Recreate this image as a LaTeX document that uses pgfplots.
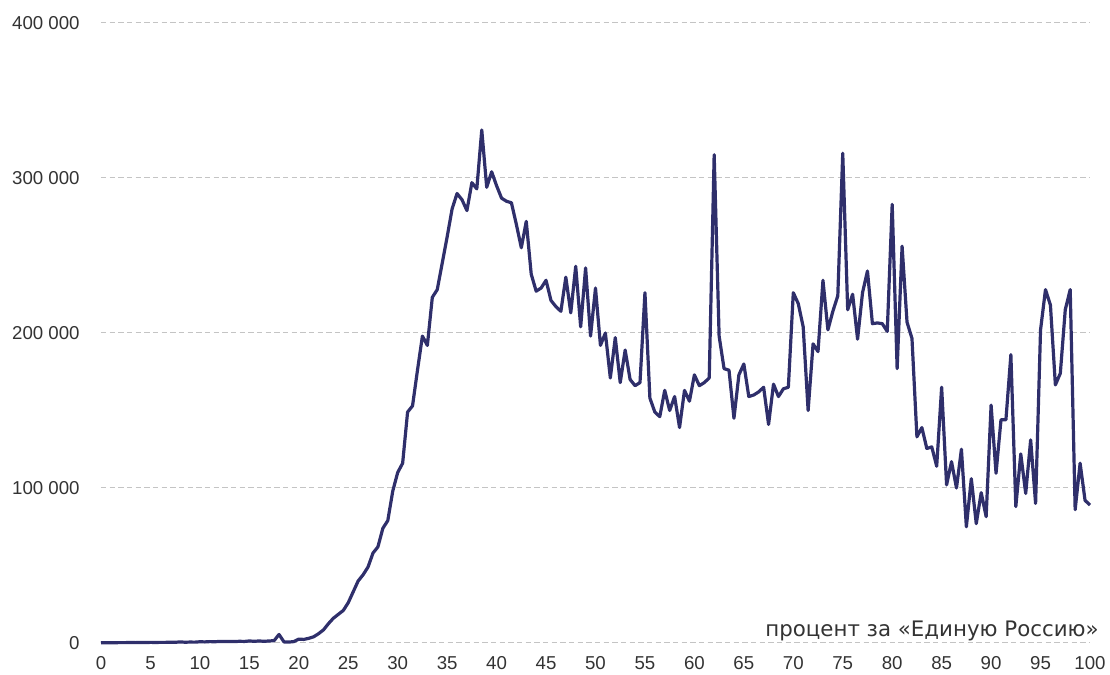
\documentclass[border=0pt]{standalone}
\usepackage{fontspec}
\setmainfont{Liberation Sans}
\newfontfamily\titlefont{DejaVu Sans}
\usepackage{pgfplots}
\pgfplotsset{compat=1.18}
\definecolor{linecol}{HTML}{2F2F6B}
\definecolor{gridcol}{HTML}{C4C4C4}
\definecolor{labcol}{HTML}{333333}
\begin{document}
\begin{tikzpicture}
\begin{axis}[
  scale only axis, width=741.75pt, height=465pt,
  xmin=0, xmax=100, ymin=0, ymax=400000,
  axis line style={draw=none},
  major tick length=0pt,
  xtick={0,5,...,100},
  xticklabels={0,5,10,15,20,25,30,35,40,45,50,55,60,65,70,75,80,85,90,95,100},
  ytick={0,100000,200000,300000,400000},
  yticklabels={0,100 000,200 000,300 000,400 000},
  scaled y ticks=false,
  ymajorgrids,
  grid style={gridcol, dash pattern=on 4pt off 2.5pt, line width=0.75pt},
  tick label style={font=\fontsize{14}{16}\selectfont, text=labcol},
  yticklabel style={anchor=east, xshift=-12.5pt},
  xticklabel style={anchor=north, yshift=-6.5pt},
  clip=false,
]
\addplot[linecol, line width=2.4pt, line join=round] coordinates {
(0,100)(0.5,150)(1,200)(1.5,200)(2,250)(2.5,250)(3,300)(3.5,250)(4,300)(4.5,300)
(5,400)(5.5,350)(6,400)(6.5,400)(7,500)(7.5,450)(8,700)(8.5,500)(9,600)(9.5,550)
(10,800)(10.5,700)(11,900)(11.5,800)(12,1000)(12.5,900)(13,1000)(13.5,900)(14,1100)(14.5,1000)
(15,1300)(15.5,1100)(16,1300)(16.5,1100)(17,1300)(17.5,1500)(18,5500)(18.5,700)(19,600)(19.5,900)
(20,2500)(20.5,2300)(21,3000)(21.5,4000)(22,6000)(22.5,8500)(23,12500)(23.5,16000)(24,18500)(24.5,21000)
(25,26000)(25.5,33000)(26,40000)(26.5,44000)(27,49000)(27.5,58000)(28,62000)(28.5,74000)(29,79000)(29.5,98000)
(30,110000)(30.5,116000)(31,149000)(31.5,153000)(32,176000)(32.5,198000)(33,192000)(33.5,223000)(34,228000)(34.5,245000)
(35,262000)(35.5,280000)(36,290000)(36.5,286000)(37,279000)(37.5,297000)(38,293000)(38.5,331000)(39,294000)(39.5,304000)
(40,295000)(40.5,287000)(41,285000)(41.5,284000)(42,270000)(42.5,255000)(43,272000)(43.5,238000)(44,227000)(44.5,229000)
(45,234000)(45.5,221000)(46,217000)(46.5,214000)(47,236000)(47.5,213000)(48,243000)(48.5,204000)(49,242000)(49.5,198000)
(50,229000)(50.5,192000)(51,200000)(51.5,171000)(52,197000)(52.5,168000)(53,189000)(53.5,170000)(54,166000)(54.5,168000)
(55,226000)(55.5,158000)(56,149000)(56.5,146000)(57,163000)(57.5,150000)(58,159000)(58.5,139000)(59,163000)(59.5,156000)
(60,173000)(60.5,166000)(61,168000)(61.5,171000)(62,315000)(62.5,198000)(63,177000)(63.5,176000)(64,145000)(64.5,173000)
(65,180000)(65.5,159000)(66,160000)(66.5,162000)(67,165000)(67.5,141000)(68,167000)(68.5,159000)(69,164000)(69.5,165000)
(70,226000)(70.5,219000)(71,204000)(71.5,150000)(72,193000)(72.5,188000)(73,234000)(73.5,202000)(74,214000)(74.5,224000)
(75,316000)(75.5,215000)(76,225000)(76.5,196000)(77,226000)(77.5,240000)(78,206000)(78.5,206500)(79,206000)(79.5,201000)
(80,283000)(80.5,177000)(81,256000)(81.5,207000)(82,196500)(82.5,133000)(83,139000)(83.5,125500)(84,126500)(84.5,114000)
(85,165000)(85.5,102000)(86,117000)(86.5,100000)(87,125000)(87.5,75000)(88,106000)(88.5,77000)(89,97000)(89.5,81500)
(90,153500)(90.5,109500)(91,144000)(91.5,144000)(92,186000)(92.5,88000)(93,122000)(93.5,96500)(94,131000)(94.5,90000)
(95,202000)(95.5,228000)(96,218000)(96.5,166500)(97,174000)(97.5,215000)(98,228000)(98.5,86000)(99,116000)(99.5,92000)
(100,89000)
};
\node[anchor=base east, font=\titlefont\fontsize{16}{19}\selectfont, text=labcol, xshift=10pt, yshift=5pt] at (axis cs:100,0) {процент за «Единую Россию»};
\end{axis}
\path[use as bounding box] (-75.75pt,-21.75pt) rectangle (756.75pt,482.25pt);
\end{tikzpicture}
\end{document}
